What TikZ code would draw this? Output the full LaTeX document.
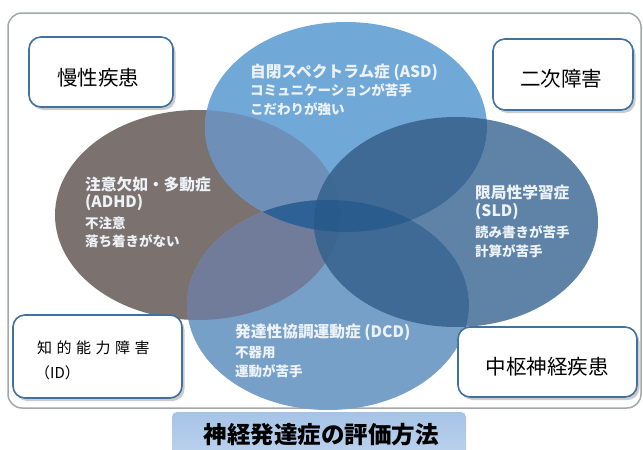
\documentclass[tikz,border=0pt]{standalone}
\usepackage{fontspec}
\setmainfont{Noto Sans CJK JP}
\usetikzlibrary{shadows}
\definecolor{cASD}{HTML}{70A8D8}
\definecolor{cADHD}{HTML}{7B7270}
\definecolor{cSLD}{HTML}{5E83A6}
\definecolor{cDCD}{HTML}{76A0C8}
\definecolor{cAsdAdhd}{HTML}{6E90B8}
\definecolor{cAsdSld}{HTML}{3F6A95}
\definecolor{cAsdDcd}{HTML}{2F6598}
\definecolor{cAdhdDcd}{HTML}{717C9A}
\definecolor{cSldDcd}{HTML}{3E6A95}
\definecolor{cAdhdSld}{HTML}{4A6A8E}
\definecolor{cAsdAdhdDcd}{HTML}{2E6296}
\definecolor{cAsdSldDcd}{HTML}{2A5C8E}
\definecolor{cAdhdSldDcd}{HTML}{3C6690}
\definecolor{cAsdAdhdSld}{HTML}{3D6892}
\definecolor{cQuad}{HTML}{295A8C}
\definecolor{boxblue}{HTML}{41719C}
\definecolor{framegray}{HTML}{A3A8AD}
\definecolor{ltext}{HTML}{EDF2F7}
\definecolor{titletop}{HTML}{A6C3E6}
\definecolor{titlebot}{HTML}{BDD3EE}
\tikzset{
  eASD/.style={insert path={(346,127) ellipse [x radius=141pt, y radius=105pt]}},
  eADHD/.style={insert path={(198,215) ellipse [x radius=143pt, y radius=105pt]}},
  eSLD/.style={insert path={(456,222) ellipse [x radius=142pt, y radius=105pt]}},
  eDCD/.style={insert path={(328,305) ellipse [x radius=141pt, y radius=105pt]}},
  ttl/.style={anchor=west, inner sep=0pt, text=ltext, font=\bfseries\fontsize{15.7}{18}\selectfont},
  sub/.style={anchor=west, inner sep=0pt, text=ltext, font=\bfseries\fontsize{13.5}{15}\selectfont},
  sidebox/.style={draw=boxblue, line width=1.6pt, fill=white, rounded corners=12pt,
    drop shadow={shadow xshift=2.5pt, shadow yshift=-3pt, fill=black!45, opacity=0.45}},
  boxtext/.style={inner sep=0pt, text=black, font=\fontsize{20.5}{23}\selectfont},
  frame/.style={draw=framegray, line width=1.5pt, rounded corners=14pt},
}
\begin{document}
\begin{tikzpicture}[x=1pt,y=-1pt]
\useasboundingbox (0,0) rectangle (643,450);
\fill[white] (0,0) rectangle (643,450);
% outer frame
\node[frame, minimum width=633pt, minimum height=395pt] (frame) at (324.5,210.5) {};
% single regions
\fill[cADHD, eADHD];
\fill[cSLD, eSLD];
\fill[cASD, eASD];
\fill[cDCD, eDCD];
% pairwise overlaps
\begin{scope}\clip[eASD]; \fill[cAsdAdhd, eADHD];\end{scope}
\begin{scope}\clip[eASD]; \fill[cAsdSld, eSLD];\end{scope}
\begin{scope}\clip[eASD]; \fill[cAsdDcd, eDCD];\end{scope}
\begin{scope}\clip[eADHD]; \fill[cAdhdDcd, eDCD];\end{scope}
\begin{scope}\clip[eSLD]; \fill[cSldDcd, eDCD];\end{scope}
\begin{scope}\clip[eADHD]; \fill[cAdhdSld, eSLD];\end{scope}
% triple overlaps
\begin{scope}\clip[eASD]; \clip[eADHD]; \fill[cAsdAdhdDcd, eDCD];\end{scope}
\begin{scope}\clip[eASD]; \clip[eSLD]; \fill[cAsdSldDcd, eDCD];\end{scope}
\begin{scope}\clip[eADHD]; \clip[eSLD]; \fill[cAdhdSldDcd, eDCD];\end{scope}
\begin{scope}\clip[eASD]; \clip[eADHD]; \fill[cAsdAdhdSld, eSLD];\end{scope}
% all four
\begin{scope}\clip[eASD]; \clip[eADHD]; \clip[eSLD]; \fill[cQuad, eDCD];\end{scope}
% ellipse texts
\node[ttl] (asd1) at (250,72) {自閉スペクトラム症 (ASD)};
\node[sub] (asd2) at (250,90) {コミュニケーションが苦手};
\node[sub] (asd3) at (250,109) {こだわりが強い};
\node[ttl] (adhd1) at (85,185) {注意欠如・多動症};
\node[ttl] (adhd2) at (85,203) {(ADHD)};
\node[sub] (adhd3) at (85,223) {不注意};
\node[sub] (adhd4) at (85,241) {落ち着きがない};
\node[ttl] (sld1) at (475,192) {限局性学習症};
\node[ttl] (sld2) at (475,212) {(SLD)};
\node[sub] (sld3) at (475,232) {読み書きが苦手};
\node[sub] (sld4) at (475,251) {計算が苦手};
\node[ttl] (dcd1) at (235,332) {発達性協調運動症 (DCD)};
\node[sub] (dcd2) at (235,353) {不器用};
\node[sub] (dcd3) at (235,371) {運動が苦手};
% side boxes
\node[sidebox, minimum width=144pt, minimum height=70pt] (b1) at (101,72) {};
\node[boxtext] (t1) at (98,78) {慢性疾患};
\node[sidebox, minimum width=140pt, minimum height=71pt] (b2) at (563,74.5) {};
\node[boxtext] (t2) at (561,79) {二次障害};
\node[sidebox, minimum width=179pt, minimum height=70pt] (b3) at (547.5,362) {};
\node[boxtext] (t3) at (547,367) {中枢神経疾患};
\node[sidebox, minimum width=169pt, minimum height=83pt] (b4) at (97.5,356.5) {};
\node[inner sep=0pt, anchor=west, font=\fontsize{15}{18}\selectfont] (t4a) at (37,348)
  {知\kern4.5pt 的\kern4.5pt 能\kern4.5pt 力\kern4.5pt 障\kern4.5pt 害};
\node[inner sep=0pt, anchor=west, font=\fontsize{15}{18}\selectfont] (t4b) at (35,373) {（ID）};
% title box
\node[top color=titletop, bottom color=titlebot, rounded corners=5pt,
  minimum width=294pt, minimum height=46pt, inner sep=0pt] (titlebox) at (319,435) {};
\node[inner sep=0pt, font=\bfseries\fontsize{23.5}{26}\selectfont] (title) at (321,435)
  {神経発達症の評価方法};
\end{tikzpicture}
\end{document}
